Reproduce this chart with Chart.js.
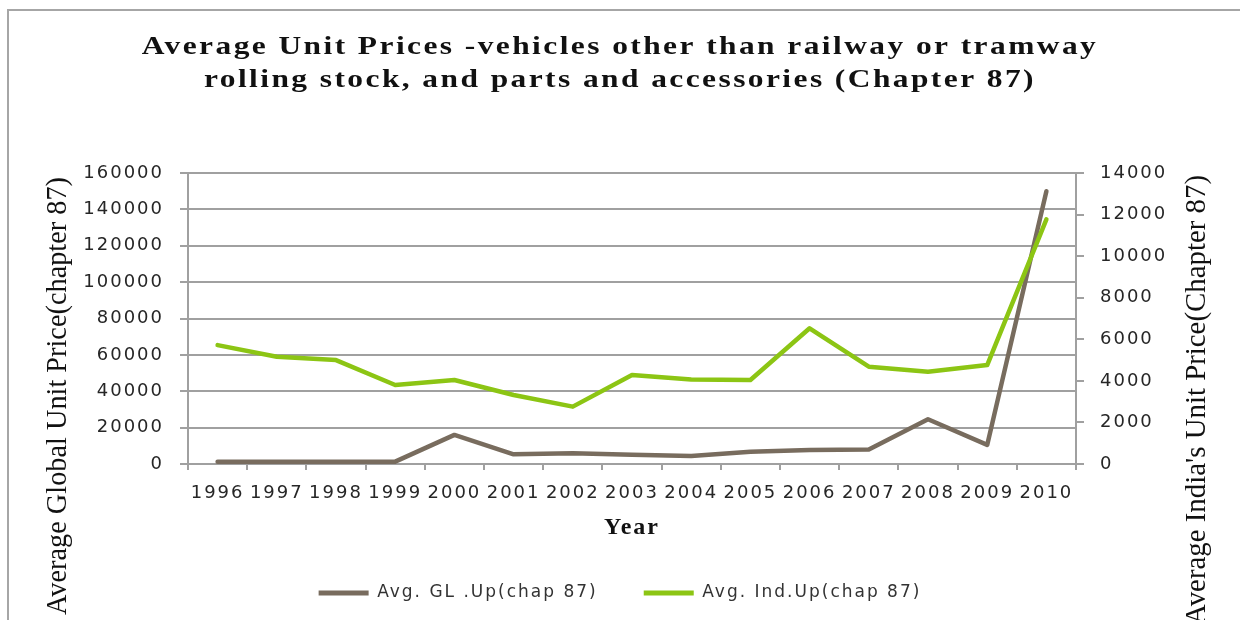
<!DOCTYPE html>
<html>
<head>
<meta charset="utf-8">
<script src="https://cdn.jsdelivr.net/npm/chart.js@4/dist/chart.umd.min.js"></script>
<style>
  html, body { margin: 0; padding: 0; background: #fff; overflow: hidden; }
  #frame { position: absolute; left: 7px; top: 9px; width: 1300px; height: 700px; border: 2px solid #a6a6a6; }
  #wrap { position: absolute; left: 0; top: 0; width: 1240px; height: 620px; }
</style>
</head>
<body>
<div id="frame"></div>
<div id="wrap"><canvas id="chart"></canvas></div>
<script>
// data
const years = ['1996', '1997', '1998', '1999', '2000', '2001', '2002', '2003', '2004', '2005', '2006', '2007', '2008', '2009', '2010'];
const globalUp = [1300, 1300, 1300, 1300, 16000, 5300, 5900, 5100, 4400, 6800, 7700, 8000, 24600, 10500, 150000];
const indiaUp = [5720, 5160, 5000, 3800, 4040, 3320, 2760, 4280, 4070, 4040, 6530, 4680, 4440, 4760, 11770];

const titleLines = ['Average Unit Prices -vehicles other than railway or tramway', 'rolling stock, and parts and accessories (Chapter 87)'];
const leftTitle = 'Average Global Unit Price(chapter 87)';
const rightTitle = "Average India's Unit Price(Chapter 87)";

const brown = '#786c5e';
const green = '#8cc514';
const gridGrey = '#a0a0a0';
const tickFont = { family: 'DejaVu Sans', size: 18 };
const plainNumber = v => String(v);

// rotated serif title, squeezed to a given length like the excel export
function drawSideTitle(ctx, text, cx, topY, length) {
  ctx.save();
  ctx.letterSpacing = '0px';
  ctx.font = '22px "Liberation Serif"';
  const w = ctx.measureText(text).width;
  ctx.fillStyle = '#111';
  ctx.textAlign = 'right';
  ctx.textBaseline = 'middle';
  ctx.translate(cx, topY);
  ctx.rotate(-Math.PI / 2);
  ctx.scale(length / w, 1.3);
  ctx.fillText(text, 0, 0);
  ctx.restore();
}

const excelText = {
  id: 'excelText',
  beforeUpdate(chart) { chart.ctx.letterSpacing = '2px'; },
  beforeDraw(chart) {
    chart.ctx.letterSpacing = '2px';
    // the title in the picture is stretched sideways
    const t = chart.titleBlock;
    if (t && !t._stretched) {
      const orig = t.draw;
      t.draw = function (...args) {
        const ctx = this.ctx;
        const cx = (this.left + this.right) / 2;
        ctx.save();
        ctx.translate(cx, 0);
        ctx.scale(1.21, 1);
        ctx.translate(-cx, 0);
        orig.apply(this, args);
        ctx.restore();
      };
      t._stretched = true;
    }
  },
  afterDraw(chart) {
    drawSideTitle(chart.ctx, leftTitle, 58, 177, 438);
    drawSideTitle(chart.ctx, rightTitle, 1197, 175, 450);
  }
};

new Chart(document.getElementById('chart'), {
  type: 'line',
  data: {
    labels: years,
    datasets: [
      {
        label: 'Avg. GL .Up(chap 87)',
        data: globalUp,
        yAxisID: 'y',
        borderColor: brown,
        backgroundColor: brown,
        borderWidth: 4.5,
        pointRadius: 0,
        borderJoinStyle: 'round',
        borderCapStyle: 'round',
        order: 1
      },
      {
        label: 'Avg. Ind.Up(chap 87)',
        data: indiaUp,
        yAxisID: 'y2',
        borderColor: green,
        backgroundColor: green,
        borderWidth: 4.5,
        pointRadius: 0,
        borderJoinStyle: 'round',
        borderCapStyle: 'round',
        order: 0
      }
    ]
  },
  options: {
    responsive: true,
    maintainAspectRatio: false,
    animation: false,
    layout: { padding: { left: 0, right: 0, top: 0, bottom: 8.5 } },
    plugins: {
      title: {
        display: true,
        text: titleLines,
        color: '#111',
        font: { family: 'Liberation Serif', size: 26, weight: 'bold', lineHeight: 1.27 },
        padding: { top: 30.5, bottom: 76.5 }
      },
      legend: {
        position: 'bottom',
        labels: {
          color: '#333',
          font: { family: 'DejaVu Sans', size: 17 },
          boxWidth: 50,
          boxHeight: 5,
          padding: 46,
          sort: (a, b) => a.datasetIndex - b.datasetIndex,
          generateLabels: chart => Chart.defaults.plugins.legend.labels.generateLabels(chart).map(l => ({ ...l, lineWidth: 0 }))
        }
      },
      tooltip: { enabled: false }
    },
    scales: {
      x: {
        offset: true,
        afterFit: s => { s.height = 74.5; },
        grid: { offset: true, drawOnChartArea: false, color: gridGrey, lineWidth: 2, tickLength: 6 },
        border: { color: gridGrey, width: 2 },
        ticks: { color: '#262626', font: tickFont, maxRotation: 0, autoSkip: false, padding: 13 },
        title: {
          display: true,
          text: 'Year',
          color: '#111',
          font: { family: 'Liberation Serif', size: 24, weight: 'bold', lineHeight: 1.2 },
          padding: { top: 0, bottom: -4 }
        }
      },
      y: {
        position: 'left',
        min: 0,
        max: 160000,
        afterFit: s => { s.width = 188; },
        grid: { color: gridGrey, lineWidth: 2, tickLength: 8 },
        border: { color: gridGrey, width: 2 },
        ticks: { stepSize: 20000, color: '#262626', font: tickFont, padding: 16, callback: plainNumber }
      },
      y2: {
        position: 'right',
        min: 0,
        max: 14000,
        afterFit: s => { s.width = 164; },
        grid: { drawOnChartArea: false, color: gridGrey, lineWidth: 2, tickLength: 8 },
        border: { color: gridGrey, width: 2 },
        ticks: { stepSize: 2000, color: '#262626', font: tickFont, padding: 16, callback: plainNumber }
      }
    }
  },
  plugins: [excelText]
});
</script>
</body>
</html>
